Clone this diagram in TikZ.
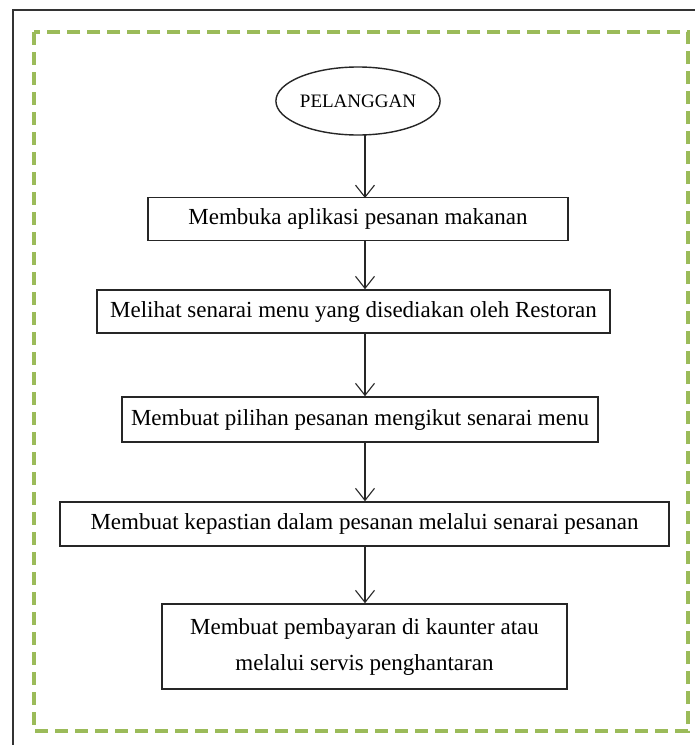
\documentclass[tikz,border=0pt]{standalone}
\usepackage{fontspec}
\setmainfont{Liberation Serif}
\usetikzlibrary{arrows.meta,shapes.geometric}
\definecolor{framegreen}{RGB}{155,187,89}
\begin{document}
\begin{tikzpicture}[x=1pt,y=-1pt,
  stepbox/.style={draw=black!85,line width=1.6pt,minimum height=43pt,font=\fontsize{23}{27}\selectfont,inner sep=0pt},
  conn/.style={draw=black!85,line width=1.1pt,-{Straight Barb[length=12pt,width=19pt,line width=1.1pt]}}]
\useasboundingbox (0,0) rectangle (695,745);
\fill[white] (0,0) rectangle (695,745);
\draw[black!80,line width=1.5pt] (13,10) rectangle (710,760);
\draw[framegreen,line width=4pt,dash pattern=on 13pt off 7pt] (34,32) rectangle (688,731);
\node[ellipse,draw=black!85,line width=1.4pt,minimum width=140pt,minimum height=68pt,inner sep=0pt,font=\fontsize{19}{23}\selectfont] (p) at (358,101) {PELANGGAN};
\node[stepbox,minimum width=420pt] (b1) at (358,219) {Membuka aplikasi pesanan makanan};
\node[stepbox,minimum width=513pt] (b2) at (353.5,311.5) {Melihat senarai menu yang disediakan oleh Restoran};
\node[stepbox,minimum width=476pt,minimum height=45pt] (b3) at (360,419.5) {Membuat pilihan pesanan mengikut senarai menu};
\node[stepbox,minimum width=609pt,minimum height=44pt] (b4) at (364.5,524) {Membuat kepastian dalam pesanan melalui senarai pesanan};
\node[stepbox,minimum width=405pt,minimum height=85pt,align=center,font=\fontsize{23}{36}\selectfont] (b5) at (364.5,646.5) {Membuat pembayaran di kaunter atau\\melalui servis penghantaran};
\draw[conn] (365,135) -- (365,198);
\draw[conn] (b1.south -| 365,0) -- (b2.north -| 365,0);
\draw[conn] (b2.south -| 365,0) -- (b3.north -| 365,0);
\draw[conn] (b3.south -| 365,0) -- (b4.north -| 365,0);
\draw[conn] (b4.south -| 365,0) -- (b5.north -| 365,0);
\end{tikzpicture}
\end{document}
